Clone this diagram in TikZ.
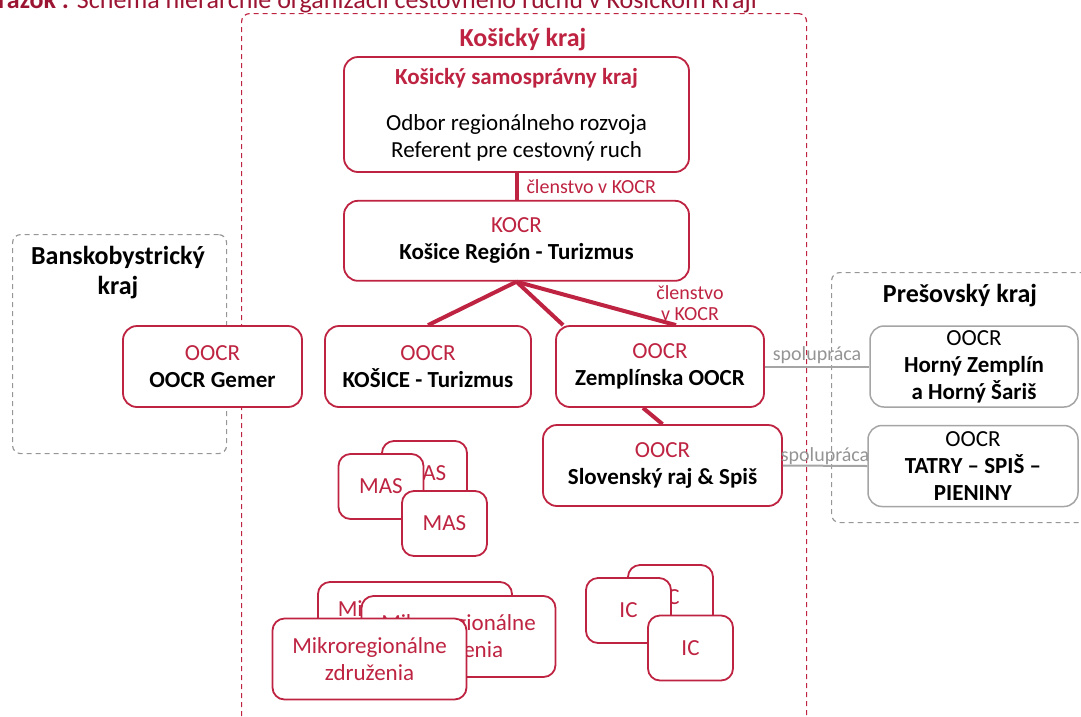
\documentclass[tikz,border=0pt]{standalone}
\usepackage{fontspec}
\setmainfont{Carlito}
\usepackage{xcolor}
\usetikzlibrary{positioning, calc}
\definecolor{kred}{RGB}{190,35,65}
\definecolor{kcap}{RGB}{155,20,50}
\definecolor{kgray}{RGB}{165,165,165}
\definecolor{kdash}{RGB}{150,150,150}
\newcommand{\boxfont}{\fontsize{23}{27}\selectfont}
\newcommand{\labfont}{\fontsize{20}{23}\selectfont}
\newcommand{\headfont}{\fontsize{26}{30}\selectfont\bfseries}
\tikzset{
  orgbox/.style={rectangle, draw=kred, line width=1.8pt, fill=white, rounded corners=14pt,
                 align=center, inner sep=0pt, font=\boxfont},
  ourbox/.style={orgbox, minimum height=81pt},
  otherbox/.style={orgbox, draw=kgray, line width=1.5pt, minimum height=81pt},
  stackbox/.style={orgbox, rounded corners=12pt, text=kred},
  krajframe/.style={rectangle, draw=#1, line width=1.2pt, dash pattern=on 5pt off 4pt,
                    rounded corners=8pt, inner sep=0pt, anchor=north west},
  krajtitle/.style={font=\headfont, align=center, inner sep=0pt},
  member/.style={kred, line width=4pt},
  coop/.style={kgray, line width=2pt},
  memberlabel/.style={font=\labfont, text=kred, align=center, inner sep=2pt},
  cooplabel/.style={font=\labfont, text=kgray!90!black, inner sep=2pt},
}
\begin{document}
\begin{tikzpicture}[x=1pt, y=-1pt]
  \useasboundingbox (0,0) rectangle (1081,716);
  \clip (0,0) rectangle (1081,716);

  % caption (cut at the top)
  \node[anchor=base east, inner sep=0pt, text=kcap, font=\fontsize{26}{30}\selectfont] (caption)
    at (757,8) {\textbf{Obrázok :} Schéma hierarchie organizácií cestovného ruchu v Košickom kraji};

  % --- regions ---
  \node[krajframe=kred, minimum width=565pt, minimum height=740pt] (kkraj) at (241,13) {};
  \node[krajtitle, text=kred] (kkrajtitle) at (523,40) {Košický kraj};
  \node[krajframe=kdash, minimum width=214pt, minimum height=219pt] (bbkraj) at (12,234) {};
  \node[krajtitle] (bbkrajtitle) at (118,273) {Banskobystrický\\kraj};
  \node[krajframe=kdash, minimum width=270pt, minimum height=250pt] (pokraj) at (831,272) {};
  \node[krajtitle] (pokrajtitle) at (960,296) {Prešovský kraj};

  % --- hierarchy ---
  \node[orgbox, minimum width=345pt, minimum height=115pt] (ksk) at (516.5,114.5)
    {{\color{kred}\bfseries Košický samosprávny kraj}\\[19pt]
     Odbor regionálneho rozvoja\\ Referent pre cestovný ruch};
  \node[orgbox, minimum width=345pt, minimum height=80pt, below=27pt of ksk] (kocr)
    {{\color{kred}KOCR}\\ \textbf{Košice Región - Turizmus}};

  \node[ourbox, minimum width=179pt] (gemer) at (212.5,366.5)
    {{\color{kred}OOCR}\\ \textbf{OOCR Gemer}};
  \node[ourbox, minimum width=206pt] (kosice) at (428,366.5)
    {{\color{kred}OOCR}\\ \textbf{KOŠICE - Turizmus}};
  \node[ourbox, minimum width=208pt] (zemp) at (660,366.5)
    {{\color{kred}OOCR}\\ \textbf{Zemplínska OOCR}};
  \node[ourbox, minimum width=239pt] (slraj) at (662.5,465.5)
    {{\color{kred}OOCR}\\ \textbf{Slovenský raj \& Spiš}};

  \node[otherbox, minimum width=208pt] (hzemp) at (974,366.5)
    {OOCR\\ \textbf{Horný Zemplín}\\ \textbf{a Horný Šariš}};
  \node[otherbox, minimum width=210pt] (tatry) at (973,466)
    {OOCR\\ \textbf{TATRY – SPIŠ –}\\ \textbf{PIENINY}};

  \draw[member] (ksk.south) -- node[memberlabel, right=6pt] (kocrmember) {členstvo v KOCR} (kocr.north);
  \draw[member] (kocr.south) -- (kosice.north);
  \draw[member] (kocr.south) -- ([xshift=8pt]zemp.north west);
  \draw[member] (kocr.south) -- ([xshift=16pt]zemp.north);
  \node[memberlabel] (zempmember) at (690,303) {členstvo\\[-2pt]v KOCR};
  \draw[member] ([xshift=-17pt]zemp.south) -- (slraj.north);

  \draw[coop] (zemp.east) -- node[cooplabel, above] (coop1) {spolupráca} (hzemp.west);
  \draw[coop] (slraj.east) -- node[cooplabel, above, inner sep=0pt] (coop2) {spolupráca} (tatry.west);

  % --- MAS ---
  \node[stackbox, minimum width=85pt, minimum height=65pt] (mas1) at (424.5,473.5) {MAS};
  \node[stackbox, minimum width=85pt, minimum height=65pt] (mas2) at (381,486.5) {MAS};
  \node[stackbox, minimum width=85pt, minimum height=65pt] (mas3) at (444.5,523.5) {MAS};

  % --- mikroregiony ---
  \node[stackbox, minimum width=194pt, minimum height=81pt] (mikro1) at (415,622.5)
    {Mikroregionálne\\ združenia};
  \node[stackbox, minimum width=194pt, minimum height=81pt] (mikro2) at (458.5,636.5)
    {Mikroregionálne\\ združenia};
  \node[stackbox, minimum width=194pt, minimum height=81pt] (mikro3) at (369.5,659)
    {Mikroregionálne\\ združenia};

  % --- IC ---
  \node[stackbox, minimum width=85pt, minimum height=65pt] (ic1) at (670.5,597.5) {IC};
  \node[stackbox, minimum width=85pt, minimum height=65pt] (ic2) at (628.5,610.5) {IC};
  \node[stackbox, minimum width=85pt, minimum height=65pt] (ic3) at (690.5,648) {IC};
\end{tikzpicture}
\end{document}
